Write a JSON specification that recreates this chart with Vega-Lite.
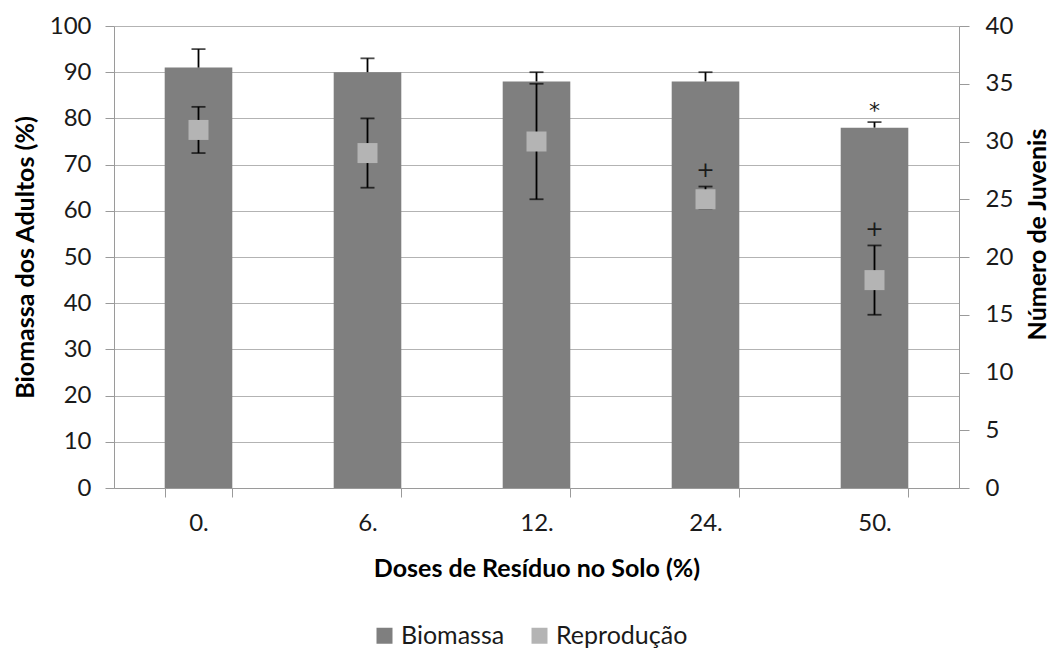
{
  "$schema": "https://vega.github.io/schema/vega-lite/v6.json",
  "width": 845,
  "height": 462,
  "autosize": "none",
  "padding": {"left": 114, "top": 26, "right": 92, "bottom": 165},
  "background": "white",
  "config": {
    "view": {"stroke": null},
    "font": "Lato",
    "axis": {
      "labelFont": "Lato",
      "labelFontSize": 24,
      "labelColor": "#1a1a1a",
      "titleFont": "Lato",
      "titleFontSize": 25,
      "titleFontWeight": "bold",
      "titleColor": "#000000",
      "domainColor": "#9a9a9a",
      "tickColor": "#9a9a9a",
      "gridColor": "#b3b3b3",
      "domainWidth": 1,
      "tickWidth": 1
    }
  },
  "datasets": {
    "main": [
      {"dose": "0.", "bio": 91, "bioHi": 95, "rep": 31, "repLo": 29, "repHi": 33},
      {"dose": "6.", "bio": 90, "bioHi": 93, "rep": 29, "repLo": 26, "repHi": 32},
      {"dose": "12.", "bio": 88, "bioHi": 90, "rep": 30, "repLo": 25, "repHi": 35},
      {"dose": "24.", "bio": 88, "bioHi": 90, "rep": 25, "repLo": 24.2, "repHi": 26.1},
      {"dose": "50.", "bio": 78, "bioHi": 79.2, "rep": 18, "repLo": 15, "repHi": 21}
    ],
    "notes": [
      {"dose": "24.", "pos": 68.8, "sym": "+"},
      {"dose": "50.", "pos": 56, "sym": "+"},
      {"dose": "50.", "pos": 81.5, "sym": "*"}
    ]
  },
  "data": {"name": "main"},
  "encoding": {
    "x": {
      "field": "dose",
      "type": "nominal",
      "sort": ["0.", "6.", "12.", "24.", "50."],
      "scale": {"paddingInner": 0.6, "paddingOuter": 0.3},
      "axis": {
        "title": "Doses de Resíduo no Solo (%)",
        "labelAngle": 0,
        "tickBand": "extent",
        "tickSize": 9,
        "labelPadding": 14,
        "titlePadding": 21,
        "grid": false
      }
    }
  },
  "layer": [
    {
      "layer": [
        {
          "mark": {"type": "bar"},
          "encoding": {
            "y": {
              "field": "bio",
              "type": "quantitative",
              "scale": {"domain": [0, 100], "nice": false},
              "axis": {
                "title": "Biomassa dos Adultos (%)",
                "values": [0, 10, 20, 30, 40, 50, 60, 70, 80, 90, 100],
                "grid": true,
                "tickSize": 9,
                "labelPadding": 14,
                "titlePadding": 11
              }
            },
            "color": {
              "datum": "Biomassa",
              "type": "nominal",
              "scale": {"domain": ["Biomassa", "Reprodução"], "range": ["#7f7f7f", "#b4b4b4"]},
              "legend": {
                "title": null,
                "orient": "none",
                "direction": "horizontal",
                "legendX": 258,
                "legendY": 597,
                "symbolType": "square",
                "symbolSize": 256,
                "symbolStrokeWidth": 0,
                "labelFont": "Lato",
                "labelFontSize": 25,
                "labelColor": "#1a1a1a",
                "labelOffset": 4,
                "columnPadding": 22,
                "padding": 0
              }
            }
          }
        },
        {
          "mark": {"type": "rule", "color": "#000000", "strokeWidth": 1.8},
          "encoding": {
            "y": {"field": "bio", "type": "quantitative"},
            "y2": {"field": "bioHi"}
          }
        },
        {
          "mark": {"type": "tick", "color": "#000000", "thickness": 1.8, "size": 14},
          "encoding": {
            "y": {"field": "bioHi", "type": "quantitative"}
          }
        },
        {
          "data": {"name": "notes"},
          "mark": {"type": "text", "font": "DejaVu Sans", "fontSize": 22, "color": "#1a1a1a", "baseline": "middle", "align": "center"},
          "encoding": {
            "y": {"field": "pos", "type": "quantitative"},
            "text": {"field": "sym", "type": "nominal"}
          }
        }
      ]
    },
    {
      "layer": [
        {
          "mark": {"type": "rule", "color": "#000000", "strokeWidth": 1.8},
          "encoding": {
            "y": {
              "field": "repLo",
              "type": "quantitative",
              "scale": {"domain": [0, 40], "nice": false},
              "axis": {
                "orient": "right",
                "title": "Número de Juvenis",
                "values": [0, 5, 10, 15, 20, 25, 30, 35, 40],
                "grid": false,
                "tickSize": 10,
                "labelPadding": 16,
                "titlePadding": 13,
                "titleAngle": 270,
                "titleBaseline": "top",
                "titleY": 208
              }
            },
            "y2": {"field": "repHi"}
          }
        },
        {
          "mark": {"type": "tick", "color": "#000000", "thickness": 1.8, "size": 14},
          "encoding": {"y": {"field": "repLo", "type": "quantitative"}}
        },
        {
          "mark": {"type": "tick", "color": "#000000", "thickness": 1.8, "size": 14},
          "encoding": {"y": {"field": "repHi", "type": "quantitative"}}
        },
        {
          "mark": {"type": "square", "size": 400, "filled": true, "opacity": 1},
          "encoding": {
            "y": {"field": "rep", "type": "quantitative"},
            "color": {"datum": "Reprodução", "type": "nominal"}
          }
        }
      ]
    }
  ],
  "resolve": {"scale": {"y": "independent"}}
}
